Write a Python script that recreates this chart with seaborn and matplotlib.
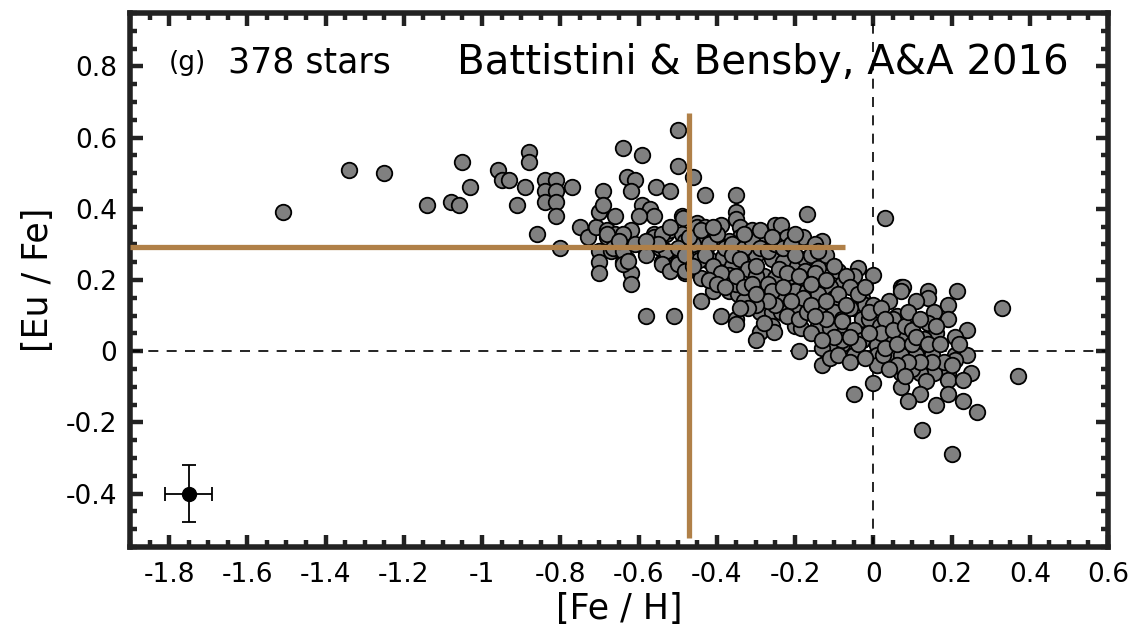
import numpy as np
import pandas as pd
import matplotlib
matplotlib.use("Agg")
import matplotlib.pyplot as plt
import seaborn as sns
from matplotlib.ticker import MultipleLocator

# ---------------- data ([Fe/H], [Eu/Fe]) ----------------
feh_sparse = [-1.51, -1.34, -1.25, -1.14, -1.08, -1.06, -1.05, -1.03, -0.96, -0.95, -0.93,
              -0.91, -0.89, -0.88, -0.88, -0.86, -0.84, -0.84, -0.84, -0.81, -0.81, -0.81,
              -0.81, -0.80, -0.77, -0.75]
eufe_sparse = [0.39, 0.51, 0.50, 0.41, 0.42, 0.41, 0.53, 0.46, 0.51, 0.48, 0.48,
               0.41, 0.46, 0.56, 0.53, 0.33, 0.48, 0.45, 0.42, 0.48, 0.45, 0.42,
               0.38, 0.29, 0.46, 0.35]

feh_mid = [-0.73, -0.71, -0.70, -0.69, -0.69, -0.68, -0.68, -0.66, -0.66, -0.64, -0.63, -0.61,
           -0.62, -0.62, -0.64, -0.59, -0.59, -0.57, -0.56, -0.60, -0.555, -0.52, -0.50, -0.50,
           -0.46, -0.56, -0.53, -0.52, -0.49, -0.49, -0.45, -0.70, -0.70, -0.70, -0.67, -0.64,
           -0.63, -0.62, -0.62, -0.58, -0.53, -0.54, -0.52, -0.50, -0.48, -0.58, -0.51,
           -0.68, -0.56, -0.54, -0.52, -0.486, -0.45, -0.43, -0.665, -0.64, -0.58, -0.545,
           -0.53, -0.54, -0.52, -0.50, -0.48, -0.448, -0.425, -0.64, -0.627]
eufe_mid = [0.32, 0.35, 0.39, 0.45, 0.41, 0.34, 0.32, 0.38, 0.33, 0.57, 0.49, 0.48,
            0.45, 0.34, 0.33, 0.55, 0.41, 0.40, 0.38, 0.38, 0.46, 0.45, 0.52, 0.62,
            0.49, 0.33, 0.33, 0.34, 0.38, 0.33, 0.36, 0.28, 0.25, 0.22, 0.28, 0.25,
            0.26, 0.22, 0.19, 0.28, 0.28, 0.25, 0.23, 0.25, 0.22, 0.10, 0.10,
            0.33, 0.32, 0.33, 0.35, 0.375, 0.35, 0.35, 0.29, 0.28, 0.27, 0.29,
            0.28, 0.245, 0.225, 0.245, 0.225, 0.28, 0.256, 0.245, 0.253]

feh_main = [-0.43, -0.35, -0.35, -0.35, -0.39, -0.34, -0.31, -0.28, -0.25, -0.235, -0.28,
            -0.22, -0.18, -0.17, -0.34, -0.37, -0.40, -0.45, -0.42, -0.385, -0.445, -0.32,
            -0.30, -0.26, -0.23, -0.195, -0.175, -0.36, -0.37, -0.33, -0.28, -0.25, -0.21,
            -0.17, -0.44, -0.41, -0.37, -0.345, -0.31, -0.28, -0.24, -0.20, -0.44, -0.33,
            -0.29, -0.26, -0.235, -0.195, -0.39, -0.35, -0.35, -0.26, -0.29, -0.30, -0.255,
            -0.20, -0.19, -0.185, -0.35]
eufe_main = [0.44, 0.44, 0.39, 0.37, 0.355, 0.35, 0.34, 0.33, 0.355, 0.355, 0.32,
             0.32, 0.32, 0.385, 0.32, 0.31, 0.31, 0.285, 0.26, 0.265, 0.255, 0.25,
             0.27, 0.26, 0.25, 0.24, 0.26, 0.24, 0.215, 0.205, 0.21, 0.205, 0.21,
             0.19, 0.205, 0.17, 0.17, 0.16, 0.17, 0.15, 0.16, 0.17, 0.14, 0.14,
             0.11, 0.11, 0.11, 0.12, 0.10, 0.09, 0.075, 0.07, 0.055, 0.03, 0.055,
             0.07, 0.0, 0.065, 0.19]

feh_solar = [-0.13, -0.16, -0.175, -0.14, -0.14, -0.09, -0.04, -0.05, 0.0, -0.08, -0.11,
             -0.17, -0.10, -0.14, -0.05, -0.03, -0.02, 0.0, 0.04, 0.07, -0.14, -0.10,
             -0.08, -0.14, -0.11, -0.08, -0.045, -0.03, -0.01, 0.017, 0.04, -0.03, -0.08,
             -0.11, -0.13, -0.05, 0.01, 0.01, 0.04, -0.13, 0.0, -0.05, 0.03, -0.06,
             -0.08, -0.05, -0.08, -0.03, 0.04, 0.08, 0.115, 0.01, 0.01, 0.045, -0.05,
             -0.11, 0.01]
eufe_solar = [0.31, 0.27, 0.225, 0.235, 0.205, 0.225, 0.235, 0.21, 0.215, 0.19, 0.18,
              0.17, 0.15, 0.16, 0.12, 0.15, 0.13, 0.13, 0.14, 0.18, 0.12, 0.11,
              0.09, 0.07, 0.065, 0.045, 0.06, 0.09, 0.09, 0.07, 0.045, 0.03, 0.02,
              0.01, 0.01, -0.01, -0.005, -0.04, -0.01, -0.04, -0.09, -0.12, 0.375, 0.12,
              0.085, 0.06, 0.03, 0.03, 0.04, 0.03, 0.017, 0.017, -0.01, -0.01, -0.01,
              -0.02, -0.04]

feh_rich = [0.075, 0.07, 0.14, 0.14, 0.215, 0.11, 0.19, 0.155, 0.19, 0.14, 0.24, 0.21,
            0.16, 0.12, 0.13, 0.075, 0.06, 0.05, 0.025, 0.07, 0.11, 0.15, 0.21, 0.24,
            0.21, 0.25, 0.19, 0.19, 0.155, 0.12, 0.07, 0.10, 0.135, 0.07, 0.12, 0.09,
            0.16, 0.19, 0.23, 0.265, 0.125, 0.20, 0.33, 0.37]
eufe_rich = [0.18, 0.17, 0.17, 0.15, 0.17, 0.14, 0.13, 0.11, 0.09, 0.08, 0.06, 0.04,
             0.05, 0.015, 0.035, 0.03, 0.10, 0.09, -0.01, -0.01, -0.01, -0.01, -0.01, -0.01,
             -0.025, -0.06, -0.06, -0.08, -0.06, -0.06, -0.06, -0.05, -0.085, -0.10, -0.12, -0.14,
             -0.15, -0.12, -0.14, -0.17, -0.22, -0.29, 0.12, -0.07]

feh_dense = [-0.44, -0.42, -0.40, -0.38, -0.36, -0.33, -0.31, -0.29, -0.43, -0.41, -0.39,
             -0.36, -0.34, -0.32, -0.30, -0.42, -0.40, -0.38, -0.35, -0.33, -0.31, -0.30,
             -0.27, -0.25, -0.23, -0.21, -0.20, -0.24, -0.22, -0.27, -0.26, -0.23, -0.19,
             -0.18, -0.21, -0.25, -0.27, -0.30, -0.32, -0.22, -0.19, -0.17, -0.16, -0.15,
             -0.16, -0.12, -0.12, -0.10, -0.07, -0.06, -0.09, -0.12, -0.07, -0.04, -0.02,
             -0.01, 0.02, 0.03, 0.02, -0.01, -0.04, -0.06, -0.10, -0.12, -0.15, -0.16,
             -0.13, -0.09, -0.06, -0.02, 0.03, 0.05, 0.06, 0.08, 0.09, 0.10, 0.10, 0.12,
             0.11, 0.14, 0.16, 0.17, 0.18, 0.15, 0.12, 0.09, 0.06, 0.04, 0.08, 0.22, 0.20,
             0.23, -0.46, -0.48, -0.50, -0.55, -0.61, -0.65, -0.58, -0.48, -0.46, -0.47,
             -0.44, -0.41, -0.33, -0.29, -0.26, -0.20, -0.15, -0.14, -0.30, -0.34, -0.28]
eufe_dense = [0.32, 0.30, 0.33, 0.29, 0.30, 0.29, 0.31, 0.29, 0.27, 0.24, 0.22,
              0.27, 0.26, 0.23, 0.21, 0.20, 0.19, 0.18, 0.21, 0.18, 0.19, 0.24,
              0.28, 0.30, 0.29, 0.30, 0.27, 0.23, 0.22, 0.19, 0.17, 0.18, 0.21,
              0.15, 0.14, 0.13, 0.14, 0.13, 0.12, 0.10, 0.09, 0.11, 0.13, 0.22,
              0.19, 0.27, 0.20, 0.24, 0.21, 0.18, 0.16, 0.14, 0.13, 0.16, 0.18,
              0.11, 0.12, 0.09, 0.05, 0.05, 0.02, 0.04, 0.04, 0.09, 0.10, 0.05,
              0.03, -0.01, -0.03, -0.02, 0.01, 0.06, 0.02, 0.07, 0.11, 0.06, 0.02, 0.09,
              0.04, 0.02, 0.07, 0.02, -0.03, -0.03, -0.03, -0.03, -0.04, -0.05, -0.07, 0.02, -0.04,
              -0.08, 0.30, 0.31, 0.29, 0.30, 0.30, 0.31, 0.31, 0.27, 0.24, 0.32,
              0.34, 0.35, 0.33, 0.34, 0.32, 0.33, 0.30, 0.28, 0.16, 0.12, 0.08]

# representative error bar
err_x, err_y = -1.75, -0.40
err_dx, err_dy = 0.06, 0.08

# mean lines
mean_feh = -0.47
mean_eufe = 0.293

x_ticks = [-1.8, -1.6, -1.4, -1.2, -1.0, -0.8, -0.6, -0.4, -0.2, 0.0, 0.2, 0.4, 0.6]
x_tick_labels = ['-1.8', '-1.6', '-1.4', '-1.2', '-1', '-0.8', '-0.6', '-0.4', '-0.2',
                 '0', '0.2', '0.4', '0.6']
y_ticks = [-0.4, -0.2, 0.0, 0.2, 0.4, 0.6, 0.8]
y_tick_labels = ['-0.4', '-0.2', '0', '0.2', '0.4', '0.6', '0.8']

# ---------------- build ----------------
df = pd.DataFrame({
    "feh": feh_sparse + feh_mid + feh_main + feh_solar + feh_rich + feh_dense,
    "eufe": eufe_sparse + eufe_mid + eufe_main + eufe_solar + eufe_rich + eufe_dense,
})

sns.set_style("white")
plt.rcParams['font.family'] = ['DejaVu Sans']
plt.rcParams['text.color'] = 'black'
plt.rcParams['axes.labelcolor'] = 'black'

fig = plt.figure(figsize=(11.32, 6.35), dpi=100)
ax = fig.add_axes([0.1148, 0.1386, 0.864, 0.841])

ORANGE = '#B08048'

ax.axhline(0, color='black', lw=1.2, ls=(0, (6, 5)), zorder=1)
ax.axvline(0, color='black', lw=1.2, ls=(0, (6, 5)), zorder=1)

sns.scatterplot(data=df, x="feh", y="eufe", ax=ax, color='#808080', edgecolor='black',
                linewidth=1.3, s=125, zorder=3, legend=False)

ax.plot([-1.9, -0.072], [mean_eufe, mean_eufe], color=ORANGE, lw=3.8, zorder=4,
        solid_capstyle='butt')
ax.plot([mean_feh, mean_feh], [-0.525, 0.669], color=ORANGE, lw=3.8, zorder=4,
        solid_capstyle='butt')

ax.errorbar([err_x], [err_y], xerr=[err_dx], yerr=[err_dy], fmt='o', color='black',
            ms=10, capsize=5, elinewidth=1.3, capthick=1.3, zorder=5)

ax.set_xlim(-1.9, 0.6)
ax.set_ylim(-0.55, 0.95)
ax.set_xticks(x_ticks)
ax.set_xticklabels(x_tick_labels)
ax.set_yticks(y_ticks)
ax.set_yticklabels(y_tick_labels)
ax.xaxis.set_minor_locator(MultipleLocator(0.05))
ax.yaxis.set_minor_locator(MultipleLocator(0.05))
ax.tick_params(which='both', direction='in', top=True, right=True, bottom=True, left=True,
               color='#222222', labelcolor='black')
ax.tick_params(which='major', length=9, width=3.2, labelsize=19)
ax.tick_params(axis='x', which='major', pad=11)
ax.tick_params(axis='y', which='major', pad=9)
ax.tick_params(which='minor', length=5, width=3.2)
for sp in ax.spines.values():
    sp.set_linewidth(4)
    sp.set_color('#222222')

ax.set_xlabel('[Fe / H]', fontsize=25, labelpad=3)
ax.set_ylabel('[Eu / Fe]', fontsize=25, labelpad=8)

ax.text(-1.80, 0.81, '(g)', fontsize=19, ha='left', va='center')
ax.text(-1.65, 0.81, '378 stars', fontsize=25, ha='left', va='center')
ax.text(-1.064, 0.81, 'Battistini & Bensby, A&A 2016', fontsize=29, ha='left', va='center')

fig.savefig('out.png', dpi=100)
print(len(df))
